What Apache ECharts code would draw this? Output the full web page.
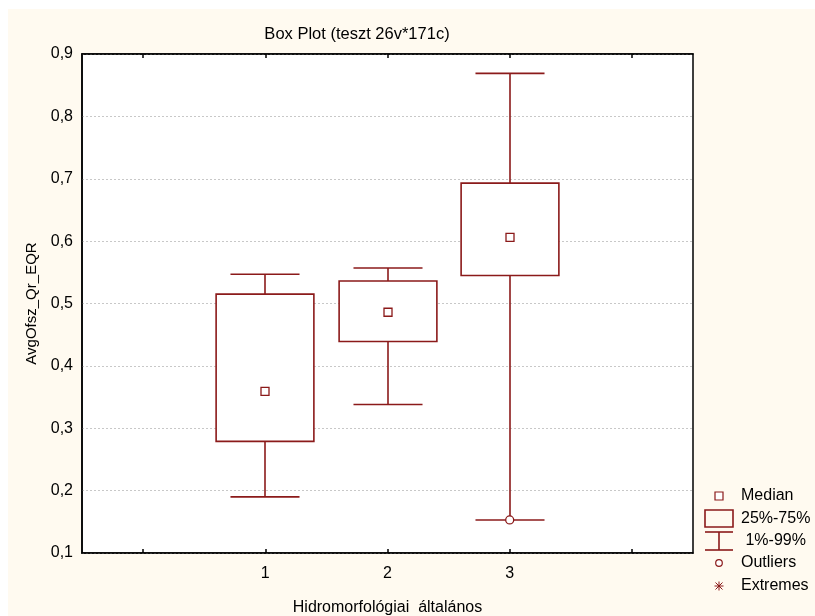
<!DOCTYPE html>
<html>
<head>
<meta charset="utf-8">
<script src="https://cdn.jsdelivr.net/npm/echarts@6/dist/echarts.min.js"></script>
<style>html,body{margin:0;padding:0;background:#fff;}#c{width:815px;height:616px;}</style>
</head>
<body>
<div id="c"></div>
<script>
const categories = ['1', '2', '3'];
const whiskerLow = [0.190, 0.338, 0.153];
const q1 = [0.279, 0.439, 0.545];
const median = [0.359, 0.486, 0.606];
const q3 = [0.515, 0.536, 0.693];
const whiskerHigh = [0.547, 0.557, 0.869];
const outliers = [['3', 0.153]];
const yTicks = [0.1, 0.2, 0.3, 0.4, 0.5, 0.6, 0.7, 0.8, 0.9];
const legendLabels = ['Median', '25%-75%', ' 1%-99%', 'Outliers', 'Extremes'];

const RED = '#8b1a1a';
const FONT = 'Liberation Sans, Arial, sans-serif';
const axisCats = [''].concat(categories).concat(['']);

const boxData = categories.map((c, i) => [c, whiskerLow[i], q1[i], median[i], q3[i], whiskerHigh[i]]);

const chart = echarts.init(document.getElementById('c'), null, {renderer: 'canvas'});

function renderBox(params, api) {
  const x = api.value(0);
  const lo = api.coord([x, api.value(1)]);
  const b1 = api.coord([x, api.value(2)]);
  const md = api.coord([x, api.value(3)]);
  const b3 = api.coord([x, api.value(4)]);
  const hi = api.coord([x, api.value(5)]);
  const band = api.size([1, 0])[0];
  const bw = band * 0.8;
  const cw = band * 0.565;
  const cx = Math.round(lo[0]);
  const st = {stroke: RED, lineWidth: 1.6, fill: null};
  return {
    type: 'group',
    children: [
      {type: 'line', shape: {x1: cx, y1: b3[1], x2: cx, y2: hi[1]}, style: st},
      {type: 'line', shape: {x1: cx, y1: b1[1], x2: cx, y2: lo[1]}, style: st},
      {type: 'line', shape: {x1: cx - cw / 2, y1: hi[1], x2: cx + cw / 2, y2: hi[1]}, style: st},
      {type: 'line', shape: {x1: cx - cw / 2, y1: lo[1], x2: cx + cw / 2, y2: lo[1]}, style: st},
      {type: 'rect', shape: {x: cx - bw / 2, y: b3[1], width: bw, height: b1[1] - b3[1]}, style: {stroke: RED, lineWidth: 1.6, fill: '#fff'}},
      {type: 'rect', shape: {x: cx - 4, y: md[1] - 4, width: 8, height: 8}, style: {stroke: RED, lineWidth: 1.3, fill: '#fff'}}
    ]
  };
}

const LX = 719;
const legendY = [496, 519, 541, 563, 586];
const legendGraphics = [
  {type: 'rect', shape: {x: LX - 4, y: legendY[0] - 4, width: 8, height: 8}, style: {stroke: RED, lineWidth: 1.2, fill: '#fff'}},
  {type: 'rect', shape: {x: 705, y: 510, width: 28, height: 17}, style: {stroke: RED, lineWidth: 1.6, fill: null}},
  {type: 'line', shape: {x1: 705, y1: 532, x2: 733, y2: 532}, style: {stroke: RED, lineWidth: 1.6}},
  {type: 'line', shape: {x1: 705, y1: 550, x2: 733, y2: 550}, style: {stroke: RED, lineWidth: 1.6}},
  {type: 'line', shape: {x1: LX, y1: 532, x2: LX, y2: 550}, style: {stroke: RED, lineWidth: 1.6}},
  {type: 'circle', shape: {cx: LX, cy: legendY[3], r: 3.3}, style: {stroke: RED, lineWidth: 1.2, fill: '#fff'}},
  {type: 'line', shape: {x1: LX - 4.5, y1: legendY[4], x2: LX + 4.5, y2: legendY[4]}, style: {stroke: RED, lineWidth: 1}},
  {type: 'line', shape: {x1: LX, y1: legendY[4] - 4.5, x2: LX, y2: legendY[4] + 4.5}, style: {stroke: RED, lineWidth: 1}},
  {type: 'line', shape: {x1: LX - 3.5, y1: legendY[4] - 3.5, x2: LX + 3.5, y2: legendY[4] + 3.5}, style: {stroke: RED, lineWidth: 1}},
  {type: 'line', shape: {x1: LX - 3.5, y1: legendY[4] + 3.5, x2: LX + 3.5, y2: legendY[4] - 3.5}, style: {stroke: RED, lineWidth: 1}}
].concat(legendLabels.map((t, i) => ({
  type: 'text',
  style: {text: t, x: 741, y: legendY[i], textVerticalAlign: 'middle', font: '16px ' + FONT, fill: '#000'}
})));

const option = {
  backgroundColor: '#fff',
  animation: false,
  graphic: [
    {type: 'rect', z: -10, shape: {x: 8, y: 9, width: 807, height: 607}, style: {fill: '#fffaf0'}},
    {type: 'text', style: {text: 'Box Plot (teszt 26v*171c)', x: 357, y: 34, textAlign: 'center', textVerticalAlign: 'middle', font: '16.5px ' + FONT, fill: '#000'}}
  ].concat(legendGraphics),
  grid: {left: 82, top: 54, right: 122, bottom: 63, show: true, backgroundColor: '#fff', borderColor: '#000', borderWidth: 1.5, containLabel: false, outerBoundsMode: 'none'},
  xAxis: [
    {
      type: 'category', data: axisCats, position: 'bottom', boundaryGap: true,
      axisLine: {show: true, lineStyle: {color: '#000', width: 1.5}},
      axisTick: {show: true, inside: true, alignWithLabel: true, length: 4, lineStyle: {color: '#000', width: 1.5}},
      axisLabel: {color: '#000', fontSize: 16, fontFamily: FONT, margin: 13},
      splitLine: {show: false},
      name: 'Hidromorfológiai  általános', nameLocation: 'middle', nameGap: 47,
      nameTextStyle: {color: '#000', fontSize: 16, fontFamily: FONT}
    },
    {
      type: 'category', data: axisCats, position: 'top', boundaryGap: true,
      axisLine: {show: true, lineStyle: {color: '#000', width: 1.5}},
      axisTick: {show: true, inside: true, alignWithLabel: true, length: 4, lineStyle: {color: '#000', width: 1.5}},
      axisLabel: {show: false}
    }
  ],
  yAxis: [{
    type: 'value', min: 0.1, max: 0.9, interval: 0.1,
    axisLine: {show: true, lineStyle: {color: '#000', width: 1.5}},
    axisTick: {show: false},
    axisLabel: {color: '#000', fontSize: 16, fontFamily: FONT, margin: 9,
      formatter: v => { const t = yTicks.find(k => Math.abs(k - v) < 1e-6); return t === undefined ? '' : t.toFixed(1).replace('.', ','); }},
    splitLine: {show: true, lineStyle: {color: '#c8c8c8', type: [2, 2], width: 1}},
    name: 'AvgOfsz_Qr_EQR', nameLocation: 'middle', nameGap: 42,
    nameTextStyle: {color: '#000', fontSize: 15, fontFamily: FONT}
  }],
  series: [
    {type: 'custom', xAxisIndex: 0, renderItem: renderBox, data: boxData, encode: {x: 0, y: [1, 2, 3, 4, 5]}, z: 3},
    {type: 'scatter', xAxisIndex: 0, data: outliers, symbol: 'circle', symbolSize: 8,
      itemStyle: {color: '#fff', borderColor: RED, borderWidth: 1.3, opacity: 1}, z: 5}
  ]
};
chart.setOption(option);
</script>
</body>
</html>
